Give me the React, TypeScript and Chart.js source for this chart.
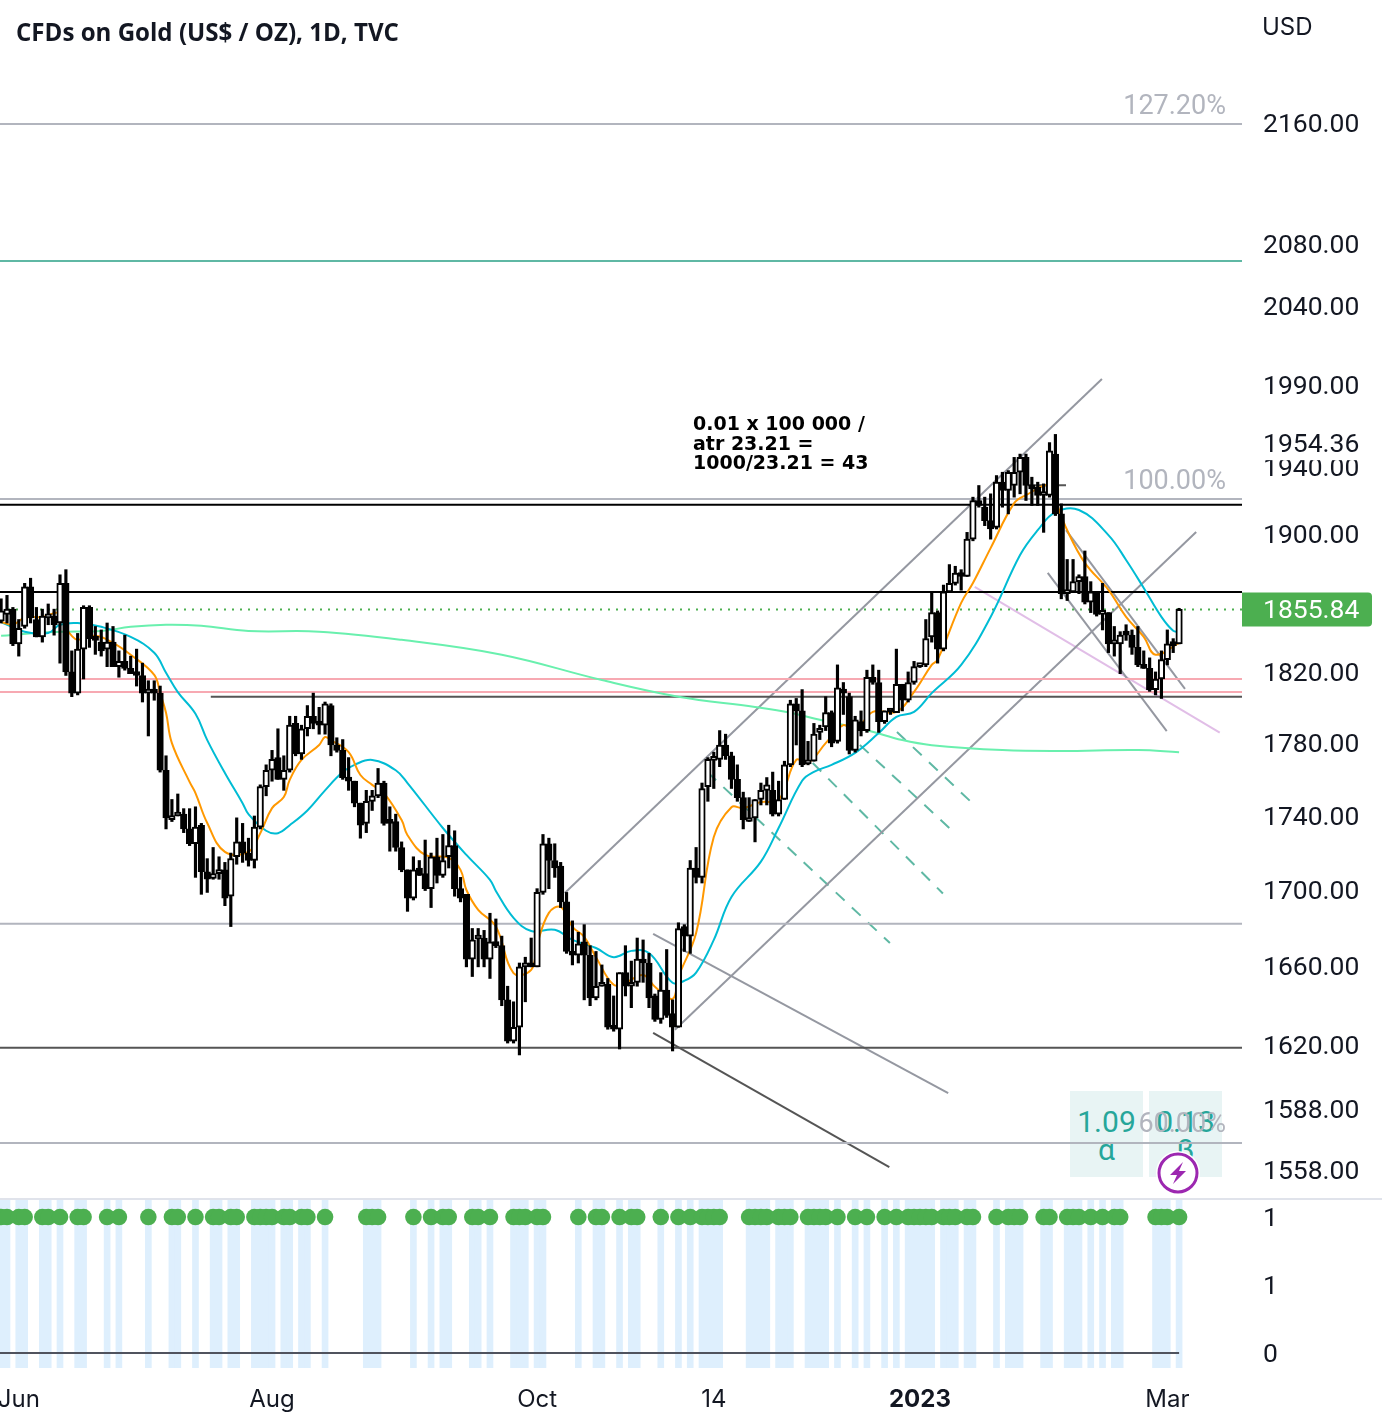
import { useEffect, useRef } from "react";
import { Chart, registerables } from "chart.js";

Chart.register(...registerables);

const opens = [1849,1853,1856,1836,1846,1869,1850,1840,1851,1852,1848,1871,1820,1808,1833,1857,1839,1837,1833,1837,1823,1826,1822,1819,1818,1808,1810,1808,1765,1738,1740,1741,1733,1725,1735,1710,1706.5,1709,1711,1697,1718,1726,1720,1716,1734,1756,1765,1772,1760,1765,1791,1774,1788,1795,1792,1790,1801,1779,1776,1761,1759,1747,1736,1748,1751,1758,1737,1737,1723,1711,1696,1712,1709,1701,1718,1708,1718,1724,1701,1698,1664,1674.5,1675,1664,1673,1671,1643,1622,1629,1660,1661,1660,1699,1725,1716,1713,1694,1667,1666,1673,1666,1644,1650,1651,1629,1628,1657,1650,1652,1664,1662,1645,1633,1648,1636,1629,1681,1676,1712,1707,1756,1770.5,1771,1779,1773,1760,1750,1737,1739,1749,1754,1754,1741,1749,1768,1802,1798,1768.5,1770,1786,1789,1797,1781,1810,1806,1776,1792,1787,1817,1814,1792,1798,1797,1813,1804,1814,1823,1824,1840,1854,1833,1866,1871,1877,1875,1897,1920,1916,1908,1904,1931,1926,1929,1937,1946,1929,1928,1923,1923,1948,1912,1865,1866,1872,1875,1860,1866,1853,1854,1836,1836,1842,1841,1834,1824,1822,1810,1816,1827,1837,1836];
const highs = [1862,1864,1857,1850,1871,1874,1857,1856,1859,1856,1876,1879,1832,1842,1858,1858,1846,1844,1848,1846,1832,1841,1829,1833,1825,1815,1815,1812,1773,1749,1752,1744,1744,1745,1736,1717,1723,1718,1715,1720,1739,1736,1728,1740,1757,1768,1776,1788,1773,1795,1795,1790,1801,1808,1800,1803,1802,1783,1782,1772,1759,1747,1754,1754,1766,1759,1745,1741,1726,1711,1718,1716,1727,1720,1728,1730,1735,1732,1707,1698,1680,1680,1679,1688,1685,1676,1650,1642,1662,1665,1675,1701,1730,1728,1725,1715,1699,1684,1678,1682,1671,1668,1661,1654,1645,1657,1671,1663,1675,1674,1667,1646,1657,1669,1643,1683,1682,1716,1723,1758,1772,1775,1787,1785,1775,1768,1753,1750,1749,1758,1761,1764,1759,1770,1804,1805,1810,1781,1791,1790,1806,1798,1824,1814,1808,1795,1798,1821,1824,1821,1798,1798.5,1833,1813,1820,1826,1824.5,1850,1866,1855,1870,1882,1881,1879,1901,1922,1929,1922,1924,1935,1937,1938,1946,1948,1948,1934,1931,1930,1955,1960,1918,1885,1885,1876,1890,1872,1866,1871,1854,1846,1843,1847,1844,1846,1832,1828,1820,1832,1844,1839,1856.5];
const lows = [1848,1848,1835,1829,1845,1848,1840,1837,1847,1841,1825,1818,1806,1807,1816,1834,1830,1829,1823,1823,1817,1821,1819,1812,1803,1784,1804,1764,1733,1737,1740,1731,1724,1707,1698,1699,1706,1706,1692,1681,1714,1715,1713,1712,1733,1751,1759,1760,1754,1764,1773,1771,1784,1788,1785,1785,1773,1775,1760,1754,1745,1728,1731,1743,1750,1735,1721,1721,1710,1689,1695,1708,1700,1691,1704,1707,1712,1697,1694,1660,1655,1660,1660,1654,1670,1640,1621,1621,1615,1642,1660,1660,1698,1701,1707,1691,1667,1661,1662,1643,1640,1643,1650,1628,1627,1618,1645,1639,1650,1652,1639,1632,1631,1634,1617,1629,1668,1667,1704,1704,1748,1755,1767,1771,1755,1748,1733,1737,1726,1746,1746,1740,1740,1749,1767,1779,1767,1768,1770,1782,1787,1778,1780,1796,1774,1775,1784,1786,1813,1786,1791,1796,1797,1798,1803,1813,1822.5,1823,1837,1825,1832,1866,1870,1867,1875,1896,1916,1905,1897,1903,1916,1912,1922,1924,1920,1917,1917,1901,1922,1911,1862,1861,1866,1865,1859,1854,1852,1844,1831,1829,1819,1838,1830,1823,1822,1809,1807,1805,1824,1831,1836];
const closes = [1855,1856,1836,1845,1869,1851,1840,1852,1852,1847,1871,1820,1808,1833,1857,1839,1838,1832,1837,1823,1826,1822,1819,1818,1808,1810,1808,1765,1739,1740,1741.5,1733,1725,1734,1710,1706,1709,1711,1696,1717,1726,1720,1716,1734,1756,1765,1771,1760,1765,1790,1774,1788,1795,1791,1790,1802,1779,1776,1761,1759,1747,1735,1748,1751,1758,1736,1736,1723,1711,1696,1711,1708,1701,1718,1708,1716,1724,1701,1696,1664,1674,1675.5,1664,1673,1671,1643,1622,1629,1660,1660.5,1660,1699,1725,1716,1712,1694,1668,1666,1672,1666,1644,1650,1651,1629,1628,1657,1650,1652,1664,1662,1644,1633,1648,1635,1629,1680,1676,1712,1707,1755,1771,1771.5,1779,1773,1760,1750,1738,1739,1749,1754,1757,1741,1749,1768,1802,1798,1768,1770,1785,1788,1797,1780,1811,1808,1776,1793,1787,1817,1814,1792,1798,1797.3,1813,1804,1814,1823,1824,1839,1854,1833,1866,1871,1877,1875,1897,1920,1917,1908,1903,1931,1926,1937,1937,1946,1929,1927,1923,1924,1950,1912,1865,1866,1872,1875,1860,1866,1853,1854,1836,1837,1841,1841,1834,1824,1822,1810,1816,1827,1836,1835,1855.84];
const upBars = [0,1,3,4,7,8,10,13,14,18,20,25,29,30,33,36,37,39,40,43,44,45,46,48,49,51,52,55,62,63,64,70,73,75,76,80,81,83,87,88,89,91,92,98,101,102,105,107,108,112,115,117,119,120,121,122,127,128,129,130,132,133,134,137,138,139,140,142,145,147,150,152,154,155,156,157,158,160,161,162,164,165,169,171,172,173,177,178,181,182,183,185,187,189,190,196,197,198,200];

const fastMa = [[0,1848.6],[2,1847],[4,1851],[7,1851.5],[10,1853.8],[11,1845.2],[12,1840.6],[13,1838.3],[16,1840.6],[19,1836.6],[22,1829.8],[26,1818.3],[27,1808],[28,1797],[29,1780],[32,1758.6],[33,1752.5],[35,1736.2],[38,1720.6],[42,1720.6],[44,1730.7],[46,1744.3],[48,1750.3],[49,1759.7],[51,1770.7],[54,1779],[55,1783.4],[56,1781.7],[59,1775],[61,1762.4],[63,1757],[65,1752.5],[68,1737.8],[69,1729.6],[72,1719],[76,1717.5],[78,1711],[79,1700.3],[81,1689.8],[84,1681],[87,1656.8],[90,1658.4],[91,1671.4],[93,1688.2],[95,1691.3],[97,1680.9],[99,1675.6],[101,1665],[104,1650.7],[106,1651.8],[109,1655.8],[111,1649.7],[114,1643.5],[115,1654.8],[118,1677.6],[121,1728.6],[124,1744.8],[126,1744.3],[129,1747.6],[132,1748.7],[135,1770.7],[137,1769],[140,1780],[143,1790],[145,1787],[148,1797.5],[152,1797.5],[155,1808.7],[158,1824],[159,1826.9],[163,1859.6],[165,1871.2],[168,1891.7],[172,1918.4],[174,1923.2],[178,1929.2],[179,1920.2],[181,1902.3],[184,1883],[188,1867.2],[191,1851.5],[194,1840],[196,1829.8],[200,1836.6]];
const slowMa = [[0,1848.6],[4,1843],[8,1842.3],[10,1847],[13,1848],[17,1845.8],[22,1840],[26,1830.9],[28,1819.5],[30,1808.6],[33,1796.4],[35,1781.7],[38,1763.5],[41,1747],[42,1741],[45,1732],[47,1730.7],[49,1735],[52,1743],[55,1754],[58,1764],[60,1768],[63,1770.7],[67,1765],[69,1758],[75,1733.5],[79,1719],[83,1705.7],[84,1699.8],[87,1685.6],[90,1678.7],[94,1679.3],[97,1674],[101,1669.8],[104,1665],[107,1668.3],[110,1667.2],[114,1651.8],[116,1652.8],[118,1657],[121,1674],[124,1696.6],[129,1715.4],[132,1733.5],[136,1759.2],[138,1764.1],[141,1768],[145,1774.6],[149,1785.6],[152,1794.7],[155,1797.5],[158,1808],[163,1824],[168,1851.5],[173,1887.6],[176,1902.3],[179,1913],[183,1914.3],[188,1899.4],[191,1884.7],[194,1868.3],[197,1851.5],[199,1843.5],[200,1843]];
const longMa = [[0,1840.6],[6,1842.3],[11,1843],[17,1843.4],[22,1845.8],[28,1847],[34,1846.4],[42,1843.4],[54,1843],[68,1838.3],[85,1829.8],[102,1815.4],[115,1806],[128,1800.2],[134,1797],[139,1793],[147,1787.2],[153,1781.7],[158,1778.9],[170,1776.2],[180,1775.7],[193,1776.2],[200,1775]];

const grayLevels = [2159.3, 1920.9, 1682.5, 1571.2];
const tealLevels = [2069];
const blackLevels = [1917.4, 1866];
const pinkLevels = [1816, 1808.6];
const darkLevels = [1618.6];
const supportLevel = [[35.6, 1805.9], [210.7, 1805.9]];

const grayTrends = [
  [[95.7,1698.7],[186.9,1994.2]],
  [[114.4,1627.7],[202.9,1901.2]],
  [[110.7,1677.2],[160.8,1595.9]],
  [[177.7,1877.1],[197.9,1786.7]],
  [[180.8,1902.3],[201,1810.4]],
];
const darkTrends = [
  [[110.7,1626.2],[150.8,1559.4]],
  [[174.3,1929.2],[180.8,1929.2]],
];
const lilacTrend = [[165.3,1868.9],[206.9,1785.8]];
const dashedTrends = [
  [[119.9,1764],[150.9,1672.4]],
  [[137.8,1769],[159.9,1698.4]],
  [[145.8,1779],[161.9,1730.8]],
  [[152.1,1786.2],[164.5,1748.2]],
];

const priceTicks = [2160,2080,2040,1990,1940,1900,1820,1780,1740,1700,1660,1620,1588,1558];
const lastPrice = 1855.84;
const priorHigh = 1954.36;
const indicatorTicks = [0, 0.5, 1];
const timeTicks = [3, 46, 91, 121, 156, 198];
const timeLabels = ["Jun", "Aug", "Oct", "14", "2023", "Mar"];

const X_MIN = -0.187;
const X_MAX = 210.68;
const FONT = "Inter";
const NUM_FONT = "Roboto";
const TEXT = "#131722";
const GREEN = "#4caf50";

const lineSet = (points: number[][], color: string, width = 2, dash: number[] = [], tension = 0) => ({
  type: "line",
  data: points.map(([x, y]) => ({ x, y })),
  borderColor: color,
  borderWidth: width,
  borderDash: dash,
  pointRadius: 0,
  tension,
  order: 3,
});

const levelSets = (levels: number[], color: string, width = 2, dash: number[] = []) =>
  levels.map((v) => lineSet([[X_MIN, v], [X_MAX, v]], color, width, dash));

const fitAxis = (scale: any) => {
  scale.width = 140;
  scale.paddingTop = 0;
  scale.paddingBottom = 0;
};

// an empty first line with a 4px line height pushes the axis labels down 2px
const axisFont = { family: NUM_FONT, size: 26.5, lineHeight: "4px" };

// labels that sit on top of the price axis
const priceLabels = {
  id: "priceLabels",
  afterDraw(chart: any) {
    const { ctx, scales } = chart;
    const y = scales.y;
    ctx.save();
    ctx.font = `26.5px ${NUM_FONT}`;
    ctx.textBaseline = "middle";
    const hy = y.getPixelForValue(priorHigh);
    ctx.fillStyle = "#fff";
    ctx.fillRect(1243, hy - 16.5, 139, 33);
    ctx.fillStyle = TEXT;
    ctx.fillText(priorHigh.toFixed(2), 1263, hy + 2);
    const py = y.getPixelForValue(lastPrice);
    ctx.fillStyle = GREEN;
    ctx.beginPath();
    ctx.roundRect(1242, py - 17, 130, 34, [0, 4, 4, 0]);
    ctx.fill();
    ctx.fillStyle = "#fff";
    ctx.fillText(lastPrice.toFixed(2), 1263, py + 2);
    ctx.restore();
  },
};

function PriceChart() {
  const canvasRef = useRef<HTMLCanvasElement | null>(null);

  useEffect(() => {
    if (!canvasRef.current) return;
    const chart = new Chart(canvasRef.current, {
      type: "bar",
      data: {
        datasets: [
          {
            data: opens.map((o, i) => ({ x: i, y: [o, closes[i]] })),
            backgroundColor: opens.map((o, i) => (closes[i] >= o ? "#ffffff" : "#000000")),
            borderColor: "#000000",
            borderWidth: 2,
            borderSkipped: false,
            barThickness: 6.5,
            minBarLength: 4,
            grouped: false,
            order: 0,
          },
          {
            data: lows.map((l, i) => ({ x: i, y: [l, highs[i]] })),
            backgroundColor: "#000000",
            barThickness: 2.5,
            grouped: false,
            order: 1,
          },
          lineSet(fastMa, "#ff9800", 2, [], 0.4),
          lineSet(slowMa, "#00bcd4", 2, [], 0.4),
          lineSet(longMa, "#69f0ae", 2, [], 0.4),
          ...levelSets(grayLevels, "#b2b5be"),
          ...levelSets(tealLevels, "#5fb8a4"),
          ...levelSets(blackLevels, "#000000"),
          ...levelSets(pinkLevels, "#f7a9b2"),
          ...levelSets(darkLevels, "#555555"),
          ...levelSets([lastPrice], GREEN, 2, [2, 6]),
          lineSet(supportLevel, "#555555"),
          ...grayTrends.map((t) => lineSet(t, "#9598a1")),
          ...darkTrends.map((t) => lineSet(t, "#555555")),
          lineSet(lilacTrend, "#e1bee7"),
          ...dashedTrends.map((t) => lineSet(t, "#5fb8a4", 2, [12, 10])),
        ] as any,
      },
      options: {
        responsive: false,
        animation: false,
        layout: { padding: 0, autoPadding: false },
        plugins: { legend: { display: false }, tooltip: { enabled: false } },
        scales: {
          x: { type: "linear", min: X_MIN, max: X_MAX, offset: false, bounds: "data", display: false },
          y: {
            type: "logarithmic",
            position: "right",
            min: 1544.5,
            max: 2244.5,
            bounds: "data",
            grid: { display: false, drawTicks: false },
            border: { display: false },
            afterBuildTicks: (s: any) => {
              s.ticks = priceTicks.map((value) => ({ value }));
            },
            afterFit: fitAxis,
            ticks: {
              autoSkip: false,
              padding: 21,
              color: TEXT,
              font: axisFont,
              callback: (v: any) => ["", Number(v).toFixed(2)],
            },
          },
        },
      } as any,
      plugins: [priceLabels],
    });
    return () => {
      chart.destroy();
    };
  }, []);

  return <canvas ref={canvasRef} width={1382} height={1198} style={{ display: "block" }} />;
}

function IndicatorChart() {
  const canvasRef = useRef<HTMLCanvasElement | null>(null);

  useEffect(() => {
    if (!canvasRef.current) return;
    const chart = new Chart(canvasRef.current, {
      type: "bar",
      data: {
        datasets: [
          {
            type: "line",
            data: upBars.map((x) => ({ x, y: 1 })),
            showLine: false,
            pointRadius: 8.3,
            pointBorderWidth: 0,
            pointBackgroundColor: GREEN,
            order: 0,
          },
          lineSet([[X_MIN, 0], [200, 0]], "#50535e"),
          {
            data: upBars.map((x) => ({ x, y: [-0.11, 1.14] })),
            backgroundColor: "#deeffd",
            barThickness: 6,
            grouped: false,
            order: 5,
          },
        ] as any,
      },
      options: {
        responsive: false,
        animation: false,
        layout: { padding: 0, autoPadding: false },
        plugins: { legend: { display: false }, tooltip: { enabled: false } },
        scales: {
          x: {
            type: "linear",
            min: X_MIN,
            max: X_MAX,
            offset: false,
            bounds: "data",
            grid: { display: false, drawTicks: false },
            border: { display: false },
            afterBuildTicks: (s: any) => {
              s.ticks = timeTicks.map((value) => ({ value }));
            },
            afterFit: (s: any) => {
              s.height = 56;
              s.paddingLeft = 0;
              s.paddingRight = 0;
            },
            ticks: {
              autoSkip: false,
              maxRotation: 0,
              padding: 17,
              color: TEXT,
              font: (ctx: any) => ({
                family: FONT,
                size: 24,
                weight: ctx.tick && ctx.tick.value === 156 ? "700" : "400",
              }),
              callback: (v: any) => timeLabels[timeTicks.indexOf(Number(v))],
            },
          },
          y: {
            type: "linear",
            position: "right",
            min: -0.11,
            max: 1.14,
            bounds: "data",
            grid: { display: false, drawTicks: false },
            border: { display: false },
            afterBuildTicks: (s: any) => {
              s.ticks = indicatorTicks.map((value) => ({ value }));
            },
            afterFit: fitAxis,
            ticks: {
              padding: 21,
              color: TEXT,
              font: axisFont,
              callback: (v: any) => ["", String(Math.round(Number(v)))],
            },
          },
        },
      } as any,
    });
    return () => {
      chart.destroy();
    };
  }, []);

  return <canvas ref={canvasRef} width={1382} height={226} style={{ display: "block" }} />;
}

const abs = (left: number, top: number, extra: object = {}) =>
  ({ position: "absolute", left, top, whiteSpace: "nowrap", ...extra }) as React.CSSProperties;

const percentStyle = { width: 200, textAlign: "right", color: "#b2b5be", fontFamily: NUM_FONT, fontSize: 27, lineHeight: "30px" };
const statStyle = { width: 73, textAlign: "center", color: "#26a69a", fontFamily: NUM_FONT, fontSize: 30, lineHeight: "34px" };

export default function App() {
  return (
    <div style={{ position: "absolute", left: 0, top: 0, width: 1382, height: 1424, overflow: "hidden", background: "#fff" }}>
      <div style={abs(1070, 1091, { width: 73, height: 86, background: "#e8f4f4" })} />
      <div style={abs(1149, 1091, { width: 73, height: 86, background: "#e8f4f4" })} />
      <div style={abs(1070, 1105, statStyle)}>1.09</div>
      <div style={abs(1070, 1133, statStyle)}>α</div>
      <div style={abs(1149, 1105, statStyle)}>0.13</div>
      <div style={abs(1149, 1133, statStyle)}>β</div>

      <div style={abs(0, 0)}>
        <PriceChart />
      </div>
      <div style={abs(0, 1198)}>
        <IndicatorChart />
      </div>
      <div style={abs(0, 1198, { width: 1382, height: 2, background: "#e0e3eb" })} />

      <div style={abs(1026, 90, percentStyle)}>127.20%</div>
      <div style={abs(1026, 465, percentStyle)}>100.00%</div>
      <div style={abs(1026, 1108, percentStyle)}>60.00%</div>

      <div style={abs(16, 16, { fontFamily: "Open Sans", fontWeight: 700, fontSize: 24.1, lineHeight: "32px", color: TEXT })}>
        CFDs on Gold (US$ / OZ), 1D, TVC
      </div>
      <div style={abs(1262, 12, { fontFamily: FONT, fontSize: 24, lineHeight: "30px", color: TEXT })}>USD</div>
      <div style={abs(693, 414, { fontFamily: "DejaVu Sans", fontWeight: 700, fontSize: 19, lineHeight: "19.5px", color: "#000" })}>
        0.01 x 100 000 /<br />atr 23.21 =<br />1000/23.21 = 43
      </div>

      <svg style={abs(1156, 1151)} width="44" height="44" viewBox="0 0 44 44">
        <circle cx="22" cy="22" r="22" fill="#fff" />
        <circle cx="22" cy="22" r="19" fill="#fff" stroke="#9c27b0" strokeWidth="3" />
        <path d="M27 11 L14 24 H21 L17 33 L30 20 H23 Z" fill="#9c27b0" />
      </svg>
    </div>
  );
}
